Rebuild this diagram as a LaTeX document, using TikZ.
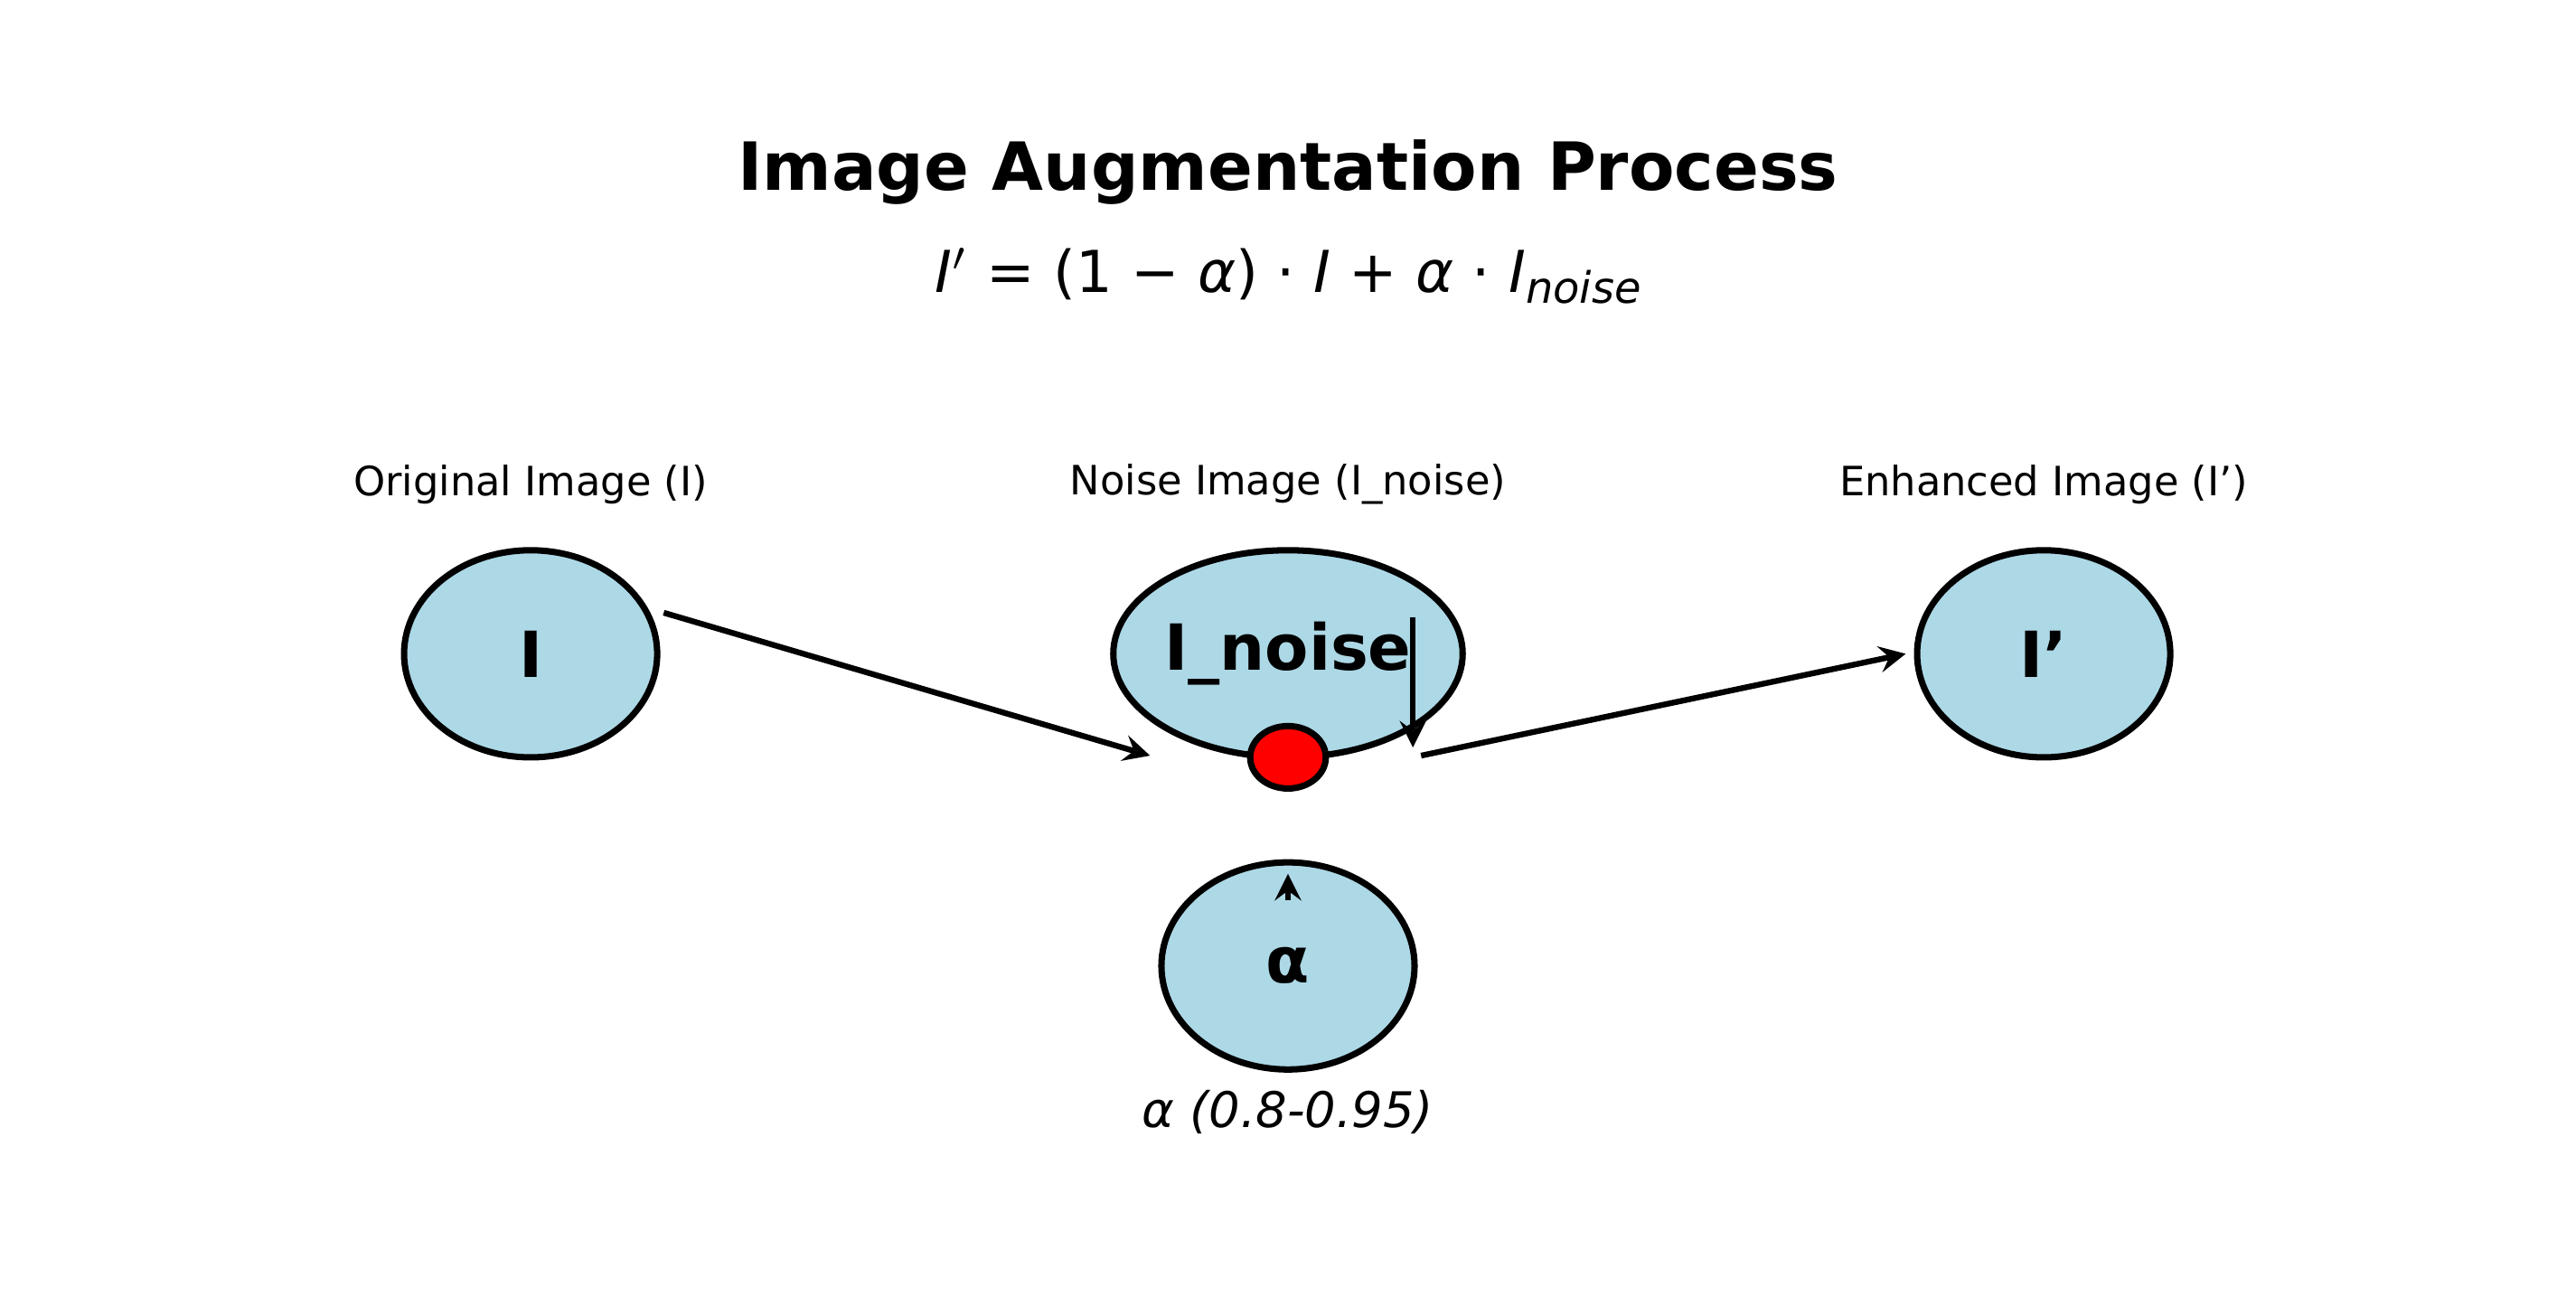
\documentclass[tikz,border=0pt]{standalone}
\usepackage{fontspec}
\setmainfont{DejaVu Sans}
\usetikzlibrary{shapes.geometric}
\definecolor{lightblue}{RGB}{173,216,230}
\tikzset{
  blob/.style={ellipse, draw, line width=1.1pt, fill=lightblue,
    minimum width=1.54cm, minimum height=1.26cm, inner sep=0pt, font=\fontsize{11}{13}\selectfont\bfseries},
  imglabel/.style={font=\fontsize{7}{8}\selectfont},
  flow/.style={->, >=stealth, line width=1pt}
}
\begin{document}
\begin{tikzpicture}[x=0.01cm,y=-0.01cm]
  \useasboundingbox (0,0) rectangle (1568,795);
  \node[font=\fontsize{11.5}{13}\selectfont\bfseries] (title) at (784,105) {Image Augmentation Process};
  \node[font=\fontsize{10}{12}\selectfont] (eq) at (784,168)
    {\textit{I}$'$ = (1 − \textit{α}) · \textit{I} + \textit{α} · \textit{I}\raisebox{-0.35ex}{\fontsize{7.5}{9}\selectfont\textit{noise}}};
  % three main images
  \node[blob] (orig) at (323,398) {I};
  \node[blob] (noise) at (784,398) {I\_noise};
  \node[blob] (enh) at (1244,398) {I'};
  \node[blob] (alpha) at (784,588) {α};
  \node[imglabel] (origlbl) at (323,295) {Original Image (I)};
  \node[imglabel] (noiselbl) at (784,295) {Noise Image (I\_noise)};
  \node[imglabel] (enhlbl) at (1244,295) {Enhanced Image (I')};
  \node[font=\fontsize{8.5}{10}\selectfont\itshape] (range) at (784,677) {α (0.8-0.95)};
  % mixing point
  \node[ellipse, draw, line width=1.1pt, fill=red, minimum width=0.46cm, minimum height=0.38cm, inner sep=0pt] (mix) at (784,461) {};
  \coordinate (a1) at (404,373);
  \coordinate (a2) at (700,460);
  \coordinate (b1) at (860,376);
  \coordinate (b2) at (860,455);
  \coordinate (c1) at (865,460);
  \coordinate (c2) at (1160,398);
  \coordinate (d1) at (784,548);
  \coordinate (d2) at (784,532);
  \draw[flow] (a1) -- (a2);
  \draw[flow] (b1) -- (b2);
  \draw[flow] (c1) -- (c2);
  \draw[flow] (d1) -- (d2);
\end{tikzpicture}
\end{document}
